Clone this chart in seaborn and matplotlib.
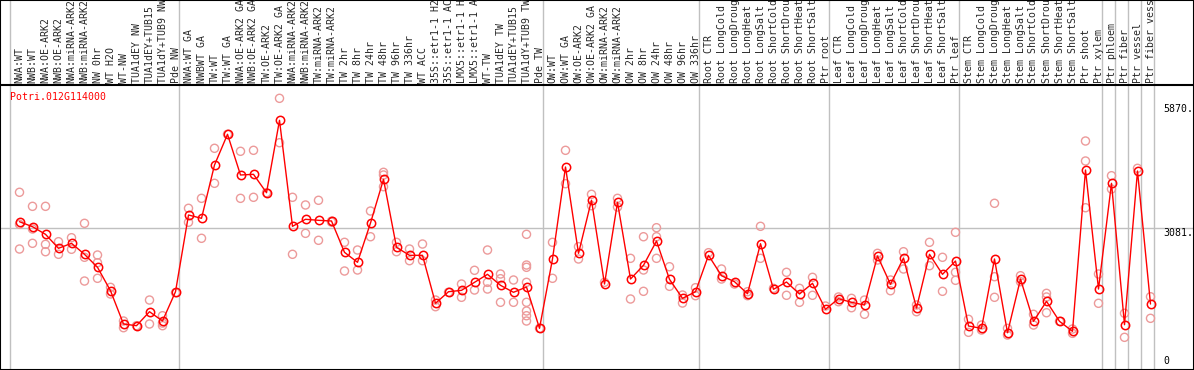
import numpy as np
import pandas as pd
import seaborn as sns
import matplotlib.pyplot as plt

gene_id = "Potri.012G114000"

samples = [
    # group 1
    "NWA:WT", "NWB:WT", "NWA:OE-ARK2", "NWB:OE-ARK2", "NWA:miRNA-ARK2", "NWB:miRNA-ARK2",
    "NW 0hr", "WT H2O", "WT-NW", "TUA1dEY NW", "TUA1dEY+TUB15", "TUA1dY+TUB9 NW", "Pde NW",
    # group 2
    "NWA:WT GA", "NWBWT GA", "TW:WT", "TW:WT GA", "NWA:OE-ARK2 GA", "NWB:OE-ARK2 GA",
    "TW:OE-ARK2", "TW:OE-ARK2 GA", "NWA:miRNA-ARK2", "NWB:miRNA-ARK2", "TW:miRNA-ARK2",
    "TW:miRNA-ARK2", "TW 2hr", "TW 8hr", "TW 24hr", "TW 48hr", "TW 96hr", "TW 336hr",
    "WT ACC", "35S::etr1-1 H2", "35S::etr1-1 AC", "LMX5::etr1-1 H", "LMX5::etr1-1 A",
    "WT-TW", "TUA1dEY TW", "TUA1dEY+TUB15", "TUA1dY+TUB9 TW", "Pde TW",
    # group 3
    "OW:WT", "OW:WT GA", "OW:OE-ARK2", "OW:OE-ARK2 GA", "OW:miRNA-ARK2", "OW:miRNA-ARK2",
    "OW 2hr", "OW 8hr", "OW 24hr", "OW 48hr", "OW 96hr", "OW 336hr",
    # root
    "Root CTR", "Root LongCold", "Root LongDroug", "Root LongHeat", "Root LongSalt",
    "Root ShortCold", "Root ShortDrou", "Root ShortHeat", "Root ShortSalt", "Ptr root",
    # leaf
    "Leaf CTR", "Leaf LongCold", "Leaf LongDroug", "Leaf LongHeat", "Leaf LongSalt",
    "Leaf ShortCold", "Leaf ShortDrou", "Leaf ShortHeat", "Leaf ShortSalt", "Ptr leaf",
    # stem
    "Stem CTR", "Stem LongCold", "Stem LongDroug", "Stem LongHeat", "Stem LongSalt",
    "Stem ShortCold", "Stem ShortDrou", "Stem ShortHeat", "Stem ShortSalt", "Ptr shoot",
    "Ptr xylem",
    # single tissues
    "Ptr phloem", "Ptr fiber", "Ptr vessel", "Ptr fiber vess",
]

group_sizes = [13, 28, 12, 10, 10, 11, 1, 1, 1, 1]

mean_expr = [
    3228, 3116, 2946, 2633, 2745, 2499, 2208, 1684, 940, 902, 1215, 1007, 1662,
    3378, 3304, 4496, 5183, 4273, 4288, 3877, 5496, 3125, 3282, 3259, 3244, 2543,
    2320, 3199, 4176, 2655, 2476, 2476, 1403, 1662, 1693, 1872, 2051, 1805, 1649,
    1767, 843,
    2394, 4452, 2521, 3709, 1834, 3662, 1946, 2253, 2796, 1939, 1514, 1662,
    2476, 2020, 1886, 1617, 2736, 1716, 1879, 1611, 1850, 1268,
    1506, 1425, 1365, 2461, 1828, 2416, 1297, 2499, 2051, 2349,
    895, 843, 2394, 745, 1946, 1000, 1447, 1000, 776, 4385, 1722,
    4087, 924, 4362, 1387,
]

replicates = [
    [3886, 3170, 2617], [3572, 3065, 2745], [3572, 2722, 2557], [2781, 2499],
    [2870, 2611], [3192, 2432, 1901], [2483, 2311, 1962], [1760, 1611],
    [1007, 857], [902], [1476, 940], [1125, 960, 902], [1640],
    [3528, 3215], [3751, 2857], [4870, 4087], [5183], [4803, 3751], [4825, 3774],
    [3877], [5988, 4995], [3774, 2499], [3602, 2968], [3707, 2812], [3240, 3220],
    [2767, 2125], [2595, 2148], [3467, 2892], [4333, 4273, 4011], [2767, 2557],
    [2617, 2356], [2729, 2356], [1476, 1327], [1650], [1834, 1537], [2141, 1700],
    [2595, 1872, 1722], [2058, 1953, 1425], [1924, 1425],
    [2946, 2259, 2208, 1872, 1425, 1230, 1125, 1007], [843],
    [2767, 1962], [4825, 4078], [2669, 2394], [3841, 3586], [1872], [3751, 3557],
    [2409, 1499], [2892, 2148, 1671], [3094, 2892, 2409], [2221, 1783],
    [1588, 1409], [1752, 1573],
    [2535], [2170, 1946], [1834], [1662, 1573], [3125, 2409], [1738],
    [2096, 1582], [1738, 1425], [1984, 1582], [1342],
    [1544, 1438], [1514, 1304], [1476, 1157], [2521, 2371], [1924, 1684],
    [2557, 2170], [1365, 1215], [2767, 2244], [2432, 1671], [2991, 2096, 1917],
    [1045, 754], [917, 805], [3640, 1998, 1537], [843, 693], [2020, 1886],
    [1157, 917], [1626, 1544, 1192], [1000], [828, 731], [5033, 4586, 3541],
    [2058, 1403],
    [4257, 3959], [1179, 642], [4422], [1550, 1067],
]

ref_level = 3081
right_ticks = [5870, 3081, 0]
right_tick_labels = ["5870.", "3081.", "0"]

line_red = "#ff0000"
rep_red = "#ec9a9a"
grid_gray = "#c0c0c0"
mono = "DejaVu Sans Mono"

sns.set_style("white")
plt.rcParams["font.family"] = [mono, "DejaVu Sans"]

df_mean = pd.DataFrame({"pos": np.arange(len(mean_expr)), "expr": mean_expr})
df_rep = pd.DataFrame(
    [(i, v) for i, vals in enumerate(replicates) for v in vals], columns=["pos", "expr"]
)

# pixel layout: point i sits at 19.5 + 13*i px, group boundaries at 10 + 13*k px
W, H, top_h = 1194, 370, 85
x_left = -19.5 / 13
x_right = (W - 19.5) / 13
bounds = np.concatenate([[0], np.cumsum(group_sizes)]) - 9.5 / 13

fig = plt.figure(figsize=(W / 100, H / 100), dpi=100)
ax_top = fig.add_axes([0, (H - top_h) / H, 1, top_h / H])
ax = fig.add_axes([0, 0, 1, (H - top_h) / H])

# label strip
ax_top.set_xlim(x_left, x_right)
ax_top.set_ylim(0, 1)
for b in bounds:
    ax_top.axvline(b, color=grid_gray, lw=1.0)
ax_top.set_xticks([])
ax_top.set_yticks([])
for side in ["top", "left", "right"]:
    ax_top.spines[side].set_color("black")
    ax_top.spines[side].set_linewidth(1.5)
ax_top.spines["bottom"].set_visible(False)

# main panel
ax.set_xlim(x_left, x_right)
ax.set_ylim(-89, 6286)
for b in bounds:
    ax.axvline(b, color=grid_gray, lw=1.0, zorder=1)
ax.axhline(ref_level, color=grid_gray, lw=1.0, zorder=1)

sns.scatterplot(data=df_rep, x="pos", y="expr", ax=ax, marker="o", s=34,
                facecolors="none", edgecolor=rep_red, linewidth=1.0, zorder=2,
                legend=False)
sns.lineplot(data=df_mean, x="pos", y="expr", ax=ax, color=line_red, linewidth=1.0,
             marker="o", markersize=6.0, markerfacecolor="none",
             markeredgecolor=line_red, markeredgewidth=1.1, zorder=3, legend=False)

ax.set_xticks(df_mean["pos"])
ax.set_xticklabels(samples, rotation=90, fontsize=7.1, family=mono)
ax.tick_params(axis="x", top=False, bottom=False, labeltop=True, labelbottom=False,
               length=0, pad=1.5)
ax.set_yticks([])
ax.set_xlabel("")
ax.set_ylabel("")
for side in ax.spines:
    ax.spines[side].set_color("black")
    ax.spines[side].set_linewidth(1.5)

ax.text(10 / W, (H - 97) / (H - top_h), gene_id, transform=ax.transAxes,
        color=line_red, fontsize=7.1, family=mono, ha="left", va="center")

x_lab = (1163 - 19.5) / 13
for v, lab in zip(right_ticks, right_tick_labels):
    ax.text(x_lab, v, lab, fontsize=7.1, family=mono, ha="left",
            va="bottom" if v == 0 else "top", color="black")

fig.savefig("out.png", dpi=100)
